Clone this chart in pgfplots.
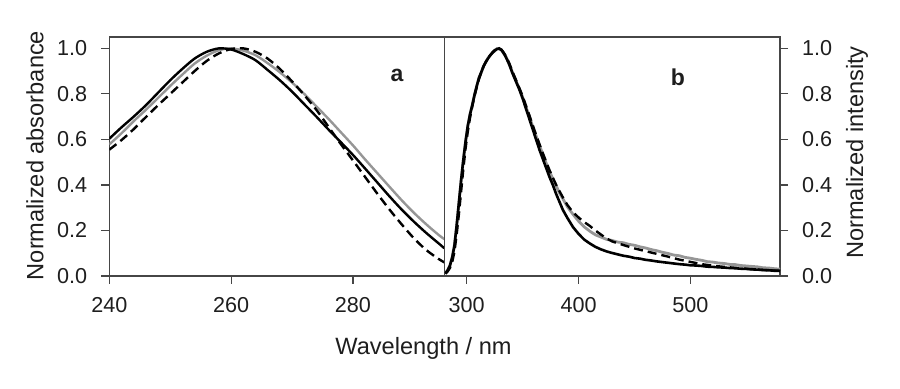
\documentclass[border=0pt]{standalone}
\usepackage{pgfplots}
\pgfplotsset{compat=1.18}
\usepackage{fontspec}
\setmainfont{Liberation Sans}
\definecolor{cgray}{RGB}{150,150,150}
\definecolor{axcol}{RGB}{70,70,70}
\definecolor{txt}{RGB}{30,30,30}
\pgfplotsset{
  every axis/.append style={
    scale only axis,
    height=119.5pt,
    ymin=0, ymax=1.05,
    axis line style={axcol, line width=0.6pt},
    every tick/.style={axcol, line width=0.6pt},
    major tick length=4pt,
    tick align=outside,
    ytick={0,0.2,0.4,0.6,0.8,1.0},
    yticklabel style={/pgf/number format/.cd,fixed,fixed zerofill,precision=1},
    /pgf/number format/assume math mode=true,
    tick label style={font=\fontsize{10.8}{12}\selectfont, text=txt},
    xticklabel shift=3pt,
    yticklabel shift=3.5pt,
    xtick pos=bottom,
  },
  gr/.style={cgray, line width=1.2pt},
  bk/.style={black, line width=1.2pt},
  ds/.style={black, line width=1.2pt, dash pattern=on 4.5pt off 2.5pt},
}
\begin{document}
\begin{tikzpicture}
\path[use as bounding box] (0,0) rectangle (450pt,194.5pt);
% ---------- panel a ----------
\begin{axis}[at={(54.65pt,56.5pt)}, anchor=south west, width=167.5pt,
  xmin=240, xmax=295, xtick={240,260,280}, ytick pos=left]
\addplot[gr, smooth] coordinates {
(240,0.578)(242,0.627)(244,0.68)(246,0.73)(248,0.782)(250,0.835)(252,0.885)(254,0.933)
(256,0.968)(258,0.992)(260,1.0)(262,0.99)(264,0.97)(266,0.935)(268,0.895)(270,0.85)
(272,0.80)(274,0.745)(276,0.69)(278,0.632)(280,0.574)(282,0.512)(284,0.452)(286,0.392)
(288,0.333)(290,0.278)(292,0.228)(294,0.182)(295,0.162)};
\addplot[ds, smooth] coordinates {
(240,0.555)(242,0.597)(244,0.645)(246,0.698)(248,0.75)(250,0.80)(252,0.85)(254,0.90)
(256,0.945)(258,0.978)(260,0.997)(262,1.0)(264,0.985)(266,0.955)(268,0.91)(270,0.855)
(272,0.795)(274,0.73)(276,0.655)(278,0.58)(280,0.508)(282,0.435)(284,0.362)(286,0.292)
(288,0.227)(290,0.166)(292,0.115)(294,0.076)(295,0.06)};
\addplot[bk, smooth] coordinates {
(240,0.603)(242,0.653)(244,0.70)(246,0.75)(248,0.805)(250,0.86)(252,0.91)(254,0.955)
(256,0.985)(258,1.0)(260,0.995)(262,0.975)(264,0.948)(266,0.905)(268,0.86)(270,0.81)
(272,0.755)(274,0.70)(276,0.643)(278,0.588)(280,0.532)(282,0.472)(284,0.411)(286,0.35)
(288,0.292)(290,0.239)(292,0.19)(294,0.145)(295,0.122)};
\end{axis}
% ---------- panel b ----------
\begin{axis}[at={(222.15pt,56.5pt)}, anchor=south west, width=167.85pt,
  xmin=280, xmax=580, xtick={300,400,500},
  ytick pos=right, yticklabel pos=right]
\addplot[gr, line width=1.4pt] coordinates {
(281,0.012)(283,0.026)(285,0.046)(287,0.082)(289,0.135)(291,0.215)(293,0.318)(295,0.418)
(297,0.508)(299,0.592)(301,0.658)(303,0.712)(305,0.752)(307,0.797)(309,0.833)(311,0.872)
(313,0.893)(315,0.922)(317,0.938)(319,0.957)(321,0.968)(323,0.982)(325,0.988)(327,0.998)
(329,0.997)(331,0.994)(333,0.978)(335,0.964)(338,0.932)(341,0.893)(344,0.858)(347,0.824)
(350,0.786)(353,0.742)(356,0.702)(359,0.657)(362,0.616)(365,0.574)(368,0.536)(371,0.496)
(374,0.461)(377,0.426)(380,0.396)(383,0.364)(386,0.339)(390,0.304)(395,0.271)(400,0.241)
(405,0.216)(410,0.197)(415,0.181)(420,0.171)(425,0.161)(430,0.156)(435,0.149)(440,0.146)
(445,0.139)(450,0.135)(455,0.128)(460,0.123)(465,0.116)(470,0.111)(475,0.104)(480,0.099)
(485,0.092)(490,0.089)(495,0.082)(500,0.078)(505,0.073)(510,0.069)(515,0.063)(520,0.061)
(525,0.057)(530,0.055)(535,0.051)(540,0.050)(545,0.046)(550,0.044)(555,0.042)(560,0.040)
(565,0.036)(570,0.035)(575,0.032)(580,0.030)};
\addplot[ds] coordinates {
(281,0.01)(283,0.02)(285,0.035)(287,0.06)(289,0.105)(291,0.18)(293,0.27)(295,0.37)
(297,0.47)(299,0.56)(301,0.635)(303,0.695)(305,0.745)(307,0.79)(309,0.83)(311,0.865)
(313,0.895)(315,0.92)(317,0.94)(319,0.957)(321,0.97)(323,0.982)(325,0.992)(327,0.998)
(329,1.0)(331,0.994)(333,0.982)(335,0.966)(338,0.935)(341,0.897)(344,0.862)(347,0.826)
(350,0.79)(353,0.748)(356,0.706)(359,0.663)(362,0.62)(365,0.58)(368,0.54)(371,0.502)
(374,0.465)(377,0.432)(380,0.40)(383,0.372)(386,0.345)(390,0.312)(395,0.28)(400,0.257)
(405,0.237)(410,0.22)(415,0.2)(420,0.182)(425,0.165)(430,0.152)(440,0.136)(450,0.121)
(460,0.109)(470,0.097)(480,0.085)(490,0.072)(500,0.062)(510,0.052)(520,0.045)(530,0.04)
(540,0.036)(550,0.032)(560,0.028)(570,0.025)(580,0.023)};
\addplot[bk, line width=1.3pt] coordinates {
(281,0.012)(283,0.025)(285,0.045)(287,0.08)(289,0.13)(291,0.22)(293,0.32)(295,0.42)
(297,0.51)(299,0.59)(301,0.66)(303,0.71)(305,0.75)(307,0.795)(309,0.835)(311,0.87)
(313,0.895)(315,0.92)(317,0.94)(319,0.955)(321,0.97)(323,0.98)(325,0.99)(327,0.997)
(329,1.0)(331,0.993)(333,0.98)(335,0.962)(338,0.93)(341,0.89)(344,0.855)(347,0.82)
(350,0.78)(353,0.735)(356,0.69)(359,0.645)(362,0.60)(365,0.555)(368,0.515)(371,0.475)
(374,0.435)(377,0.40)(380,0.36)(383,0.325)(386,0.29)(390,0.255)(395,0.215)(400,0.185)
(405,0.16)(410,0.143)(415,0.128)(420,0.117)(425,0.108)(430,0.101)(435,0.095)(440,0.089)
(445,0.085)(450,0.079)(455,0.076)(460,0.071)(465,0.068)(470,0.064)(475,0.061)(480,0.058)
(485,0.055)(490,0.052)(495,0.050)(500,0.047)(505,0.046)(510,0.044)(515,0.041)(520,0.040)
(525,0.038)(530,0.037)(535,0.035)(540,0.034)(545,0.032)(550,0.031)(555,0.029)(560,0.028)
(565,0.026)(570,0.025)(575,0.023)(580,0.022)};
\end{axis}
% ---------- labels ----------
\node[rotate=90, text=txt, font=\fontsize{11.8}{14}\selectfont] at (17.5pt,116.75pt) {Normalized absorbance};
\node[rotate=90, text=txt, font=\fontsize{11.8}{14}\selectfont] at (428.5pt,118.25pt) {Normalized intensity};
\node[anchor=base, text=txt, font=\fontsize{11.8}{14}\selectfont] at (211.75pt,17pt) {Wavelength / nm};
\node[text=txt, font=\fontsize{11.5}{14}\selectfont\bfseries] at (198.5pt,157pt) {a};
\node[text=txt, font=\fontsize{11.5}{14}\selectfont\bfseries] at (339pt,156pt) {b};
\end{tikzpicture}
\end{document}
